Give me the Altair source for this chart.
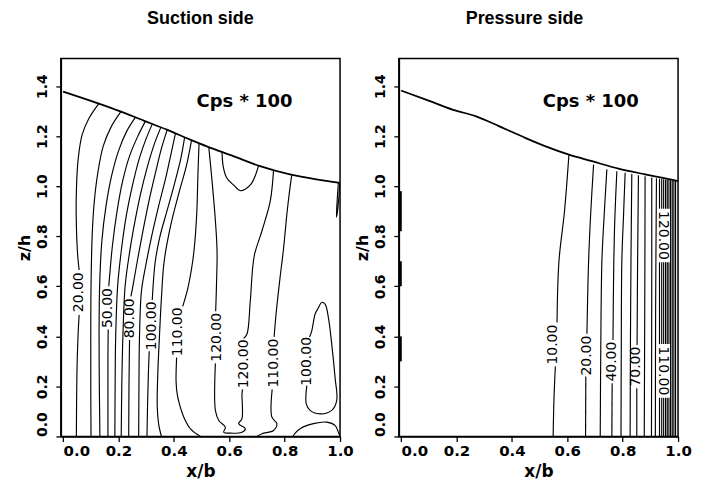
import altair as alt
import pandas as pd

# ---------------- Suction side (left panel) ----------------
suc_boundary = [(0.0, 1.378), (0.124, 1.332), (0.207, 1.299), (0.291, 1.262), (0.375, 1.226),
                (0.459, 1.186), (0.519, 1.159), (0.615, 1.120), (0.711, 1.080), (0.819, 1.047),
                (0.915, 1.027), (1.0, 1.013)]

suc_c20a = [(0.129, 1.330), (0.094, 1.272), (0.069, 1.206), (0.055, 1.113), (0.048, 0.98),
            (0.048, 0.847), (0.053, 0.72), (0.058, 0.665)]
suc_c20b = [(0.058, 0.485), (0.054, 0.40), (0.050, 0.25), (0.048, 0.0)]
suc_c30 = [(0.209, 1.298), (0.175, 1.24), (0.145, 1.16), (0.125, 1.05), (0.112, 0.93), (0.105, 0.80),
           (0.101, 0.60), (0.100, 0.40), (0.100, 0.20), (0.101, 0.0)]
suc_c40 = [(0.261, 1.275), (0.23, 1.22), (0.20, 1.14), (0.175, 1.04), (0.155, 0.92), (0.140, 0.78),
           (0.132, 0.60), (0.130, 0.40), (0.131, 0.20), (0.133, 0.0)]
suc_c50a = [(0.297, 1.259), (0.27, 1.20), (0.24, 1.12), (0.215, 1.02), (0.195, 0.90), (0.178, 0.76),
            (0.168, 0.64), (0.165, 0.60)]
suc_c50b = [(0.163, 0.427), (0.162, 0.30), (0.162, 0.15), (0.162, 0.0)]
suc_c60 = [(0.322, 1.248), (0.30, 1.19), (0.275, 1.11), (0.25, 1.00), (0.228, 0.88), (0.210, 0.74),
           (0.197, 0.60), (0.190, 0.40), (0.188, 0.20), (0.187, 0.0)]
suc_c70 = [(0.353, 1.235), (0.33, 1.17), (0.305, 1.08), (0.28, 0.97), (0.258, 0.85), (0.238, 0.72),
           (0.224, 0.60), (0.216, 0.40), (0.212, 0.20), (0.210, 0.0)]
suc_c80a = [(0.376, 1.225), (0.355, 1.15), (0.335, 1.06), (0.312, 0.95), (0.29, 0.83), (0.268, 0.70),
            (0.252, 0.60), (0.245, 0.56)]
suc_c80b = [(0.240, 0.385), (0.238, 0.20), (0.237, 0.0)]
suc_c90 = [(0.406, 1.212), (0.39, 1.13), (0.37, 1.03), (0.345, 0.92), (0.32, 0.80), (0.298, 0.68),
           (0.283, 0.58), (0.276, 0.40), (0.274, 0.20), (0.273, 0.0)]
suc_c100a = [(0.439, 1.196), (0.425, 1.11), (0.40, 1.00), (0.375, 0.90), (0.35, 0.80), (0.333, 0.70),
             (0.325, 0.60), (0.322, 0.545)]
suc_c100b = [(0.311, 0.34), (0.308, 0.25), (0.305, 0.12), (0.303, 0.0)]
suc_c105 = [(0.464, 1.184), (0.445, 1.08), (0.42, 0.98), (0.39, 0.85), (0.365, 0.70), (0.355, 0.55),
            (0.348, 0.40), (0.342, 0.25), (0.340, 0.12), (0.345, 0.05), (0.355, 0.0)]
suc_c110a = [(0.491, 1.172), (0.487, 1.05), (0.483, 0.90), (0.476, 0.78), (0.468, 0.70), (0.450, 0.59),
             (0.432, 0.52)]
suc_c110b = [(0.41, 0.315), (0.408, 0.22), (0.412, 0.17), (0.42, 0.13), (0.436, 0.077), (0.46, 0.03),
             (0.496, 0.0)]
suc_c120a = [(0.526, 1.157), (0.538, 1.02), (0.550, 0.861), (0.556, 0.741), (0.554, 0.608), (0.551, 0.50)]
suc_c120b = [(0.550, 0.292), (0.550, 0.104), (0.562, 0.064), (0.586, 0.037), (0.580, 0.017),
             (0.604, 0.013), (0.646, 0.017), (0.658, 0.031), (0.634, 0.051), (0.646, 0.071),
             (0.646, 0.170), (0.648, 0.188)]
suc_c120c = [(0.652, 0.392), (0.664, 0.409), (0.676, 0.542), (0.69, 0.72), (0.718, 0.821),
             (0.748, 0.940), (0.760, 1.065)]
suc_c130 = [(0.574, 1.137), (0.578, 1.08), (0.590, 1.035), (0.615, 1.005), (0.640, 0.982),
            (0.660, 0.99), (0.680, 1.01), (0.695, 1.045), (0.706, 1.082)]
suc_c110c = [(0.826, 1.046), (0.820, 1.00), (0.808, 0.887), (0.796, 0.75), (0.784, 0.64), (0.770, 0.50),
             (0.762, 0.398)]
suc_c110d = [(0.755, 0.188), (0.754, 0.077), (0.772, 0.051), (0.760, 0.024), (0.718, 0.011), (0.70, 0.0)]
suc_c100loop = [(0.880, 0.203), (0.878, 0.130), (0.892, 0.104), (0.928, 0.090), (0.970, 0.104),
                (0.988, 0.143), (0.982, 0.236), (0.970, 0.369), (0.958, 0.475), (0.946, 0.529),
                (0.934, 0.535), (0.920, 0.51), (0.910, 0.489), (0.898, 0.422), (0.89, 0.397)]
suc_c100foot = [(0.830, 0.0), (0.838, 0.013), (0.856, 0.031), (0.904, 0.051), (0.952, 0.057),
                (0.982, 0.044), (0.994, 0.017), (1.0, 0.0)]
suc_wallpin = [(0.994, 1.013), (0.990, 0.95), (0.987, 0.876), (0.991, 0.90), (0.996, 0.96), (0.999, 1.01)]

suc_lab_text = ["20.00", "50.00", "80.00", "100.00", "110.00", "120.00", "120.00", "110.00", "100.00"]
suc_lab_x = [0.056, 0.164, 0.241, 0.322, 0.415, 0.556, 0.652, 0.760, 0.880]
suc_lab_z = [0.576, 0.513, 0.472, 0.442, 0.418, 0.396, 0.290, 0.293, 0.300]
suc_lab_ang = [270, 270, 270, 270, 270, 270, 270, 270, 270]

# ---------------- Pressure side (right panel) ----------------
pre_boundary = [(0.0, 1.382), (0.092, 1.345), (0.188, 1.305), (0.271, 1.279), (0.355, 1.239),
                (0.450, 1.192), (0.522, 1.159), (0.606, 1.126), (0.689, 1.100), (0.785, 1.070),
                (0.881, 1.047), (0.988, 1.023), (1.0, 1.02)]

pre_c10a = [(0.606, 1.126), (0.590, 0.90), (0.570, 0.70), (0.563, 0.455)]
pre_c10b = [(0.557, 0.28), (0.552, 0.15), (0.549, 0.0)]
pre_c20a = [(0.695, 1.086), (0.685, 0.90), (0.677, 0.70), (0.671, 0.41)]
pre_c20b = [(0.667, 0.24), (0.666, 0.0)]
pre_c30 = [(0.743, 1.067), (0.733, 0.88), (0.725, 0.70), (0.721, 0.35), (0.719, 0.0)]
pre_c40a = [(0.779, 1.060), (0.772, 0.88), (0.768, 0.70), (0.765, 0.385)]
pre_c40b = [(0.762, 0.213), (0.761, 0.0)]
pre_c50 = [(0.809, 1.054), (0.803, 0.88), (0.797, 0.70), (0.795, 0.35), (0.794, 0.0)]
pre_c60 = [(0.833, 1.049), (0.830, 0.70), (0.828, 0.35), (0.827, 0.0)]
pre_c70a = [(0.857, 1.044), (0.854, 0.70), (0.852, 0.365)]
pre_c70b = [(0.851, 0.193), (0.851, 0.0)]
pre_c80 = [(0.881, 1.040), (0.880, 0.60), (0.879, 0.30), (0.878, 0.0)]
pre_c90 = [(0.905, 1.035), (0.905, 0.60), (0.904, 0.0)]
pre_c100 = [(0.922, 1.032), (0.919, 0.50), (0.918, 0.0)]
pre_dense_x = [0.933, 0.941, 0.948, 0.955, 0.961, 0.967, 0.973, 0.979, 0.985, 0.991]
pre_dense_top = [1.030, 1.029, 1.028, 1.027, 1.026, 1.025, 1.024, 1.023, 1.022, 1.021]
pre_wall = [[(-0.002, 0.82), (-0.002, 0.98)], [(-0.002, 0.60), (-0.002, 0.70)],
            [(-0.002, 0.30), (-0.002, 0.40)]]

pre_lab_text = ["10.00", "20.00", "40.00", "70.00", "110.00", "120.00"]
pre_lab_x = [0.548, 0.670, 0.763, 0.849, 0.945, 0.945]
pre_lab_z = [0.367, 0.323, 0.299, 0.279, 0.262, 0.803]
pre_lab_ang = [270, 270, 270, 270, 90, 90]

note_text = "Cps * 100"
note_pos = {"suc": (0.655, 1.335), "pre": (0.685, 1.335)}


def seg_frame(segs):
    rows = []
    for name, pts in segs:
        for i, (x, z) in enumerate(pts):
            rows.append({"seg": name, "i": i, "x": x, "z": z})
    return pd.DataFrame(rows)


suc_segs = [("c20a", suc_c20a), ("c20b", suc_c20b), ("c30", suc_c30), ("c40", suc_c40),
            ("c50a", suc_c50a), ("c50b", suc_c50b), ("c60", suc_c60), ("c70", suc_c70),
            ("c80a", suc_c80a), ("c80b", suc_c80b), ("c90", suc_c90), ("c100a", suc_c100a),
            ("c100b", suc_c100b), ("c105", suc_c105), ("c110a", suc_c110a), ("c110b", suc_c110b),
            ("c120a", suc_c120a), ("c120b", suc_c120b), ("c120c", suc_c120c), ("c130", suc_c130),
            ("c110c", suc_c110c), ("c110d", suc_c110d), ("c100loop", suc_c100loop),
            ("c100foot", suc_c100foot), ("pin", suc_wallpin)]

pre_segs = [("c10a", pre_c10a), ("c10b", pre_c10b), ("c20a", pre_c20a), ("c20b", pre_c20b),
            ("c30", pre_c30), ("c40a", pre_c40a), ("c40b", pre_c40b), ("c50", pre_c50),
            ("c60", pre_c60), ("c70a", pre_c70a), ("c70b", pre_c70b), ("c80", pre_c80),
            ("c90", pre_c90), ("c100", pre_c100)]

# dense contours near the trailing wall, broken where the two boxed labels sit
for k, (dx_, dtop) in enumerate(zip(pre_dense_x, pre_dense_top)):
    cuts = []
    for lx, lz, lt in zip(pre_lab_x, pre_lab_z, pre_lab_text):
        if abs(dx_ - lx) < 0.023:
            half = 0.097 if len(lt) > 5 else 0.08
            cuts.append((lz - half - 0.01, lz + half + 0.01))
    cuts.sort()
    start = 0.0
    n = 0
    for a, b in cuts:
        pre_segs.append((f"d{k}_{n}", [(dx_, start), (dx_, a)]))
        n += 1
        start = b
    pre_segs.append((f"d{k}_{n}", [(dx_, start), (dx_, dtop)]))

XDOM = [-0.008, 1.0]
YDOM = [0.0, 1.51]

first_left = {"condition": {"test": "datum.value === 0", "value": "left"}, "value": "center"}


def panel(segs, boundary, lab_text, lab_x, lab_z, lab_ang, note, title, tdx, walls=None):
    xenc = alt.X("x:Q", scale=alt.Scale(domain=XDOM, nice=False, zero=False),
                 axis=alt.Axis(values=[0, 0.2, 0.4, 0.6, 0.8, 1.0], format=".1f", title="x/b",
                               labelAlign=first_left, labelFontSize=15, labelPadding=2,
                               titlePadding=5, titleFontSize=17))
    yenc = alt.Y("z:Q", scale=alt.Scale(domain=YDOM, nice=False, zero=False),
                 axis=alt.Axis(values=[0, 0.2, 0.4, 0.6, 0.8, 1.0, 1.2, 1.4], format=".1f", title="z/h",
                               labelAngle=270, labelAlign=first_left, labelBaseline="bottom",
                               labelPadding=6, titlePadding=3))
    lines = alt.Chart(seg_frame(segs)).mark_line(
        color="black", strokeWidth=1.15, interpolate="catmull-rom"
    ).encode(xenc, yenc, detail="seg:N", order="i:Q")
    bdf = pd.DataFrame({"x": [p[0] for p in boundary], "z": [p[1] for p in boundary],
                        "i": list(range(len(boundary)))})
    bline = alt.Chart(bdf).mark_line(color="black", strokeWidth=1.7, interpolate="monotone").encode(
        x="x:Q", y="z:Q", order="i:Q")
    ldf = pd.DataFrame({"t": lab_text, "x": lab_x, "z": lab_z, "ang": lab_ang})
    labs = alt.Chart(ldf).mark_text(font="DejaVu Sans", fontSize=14, color="black",
                                    align="center", baseline="middle").encode(
        x="x:Q", y="z:Q", text="t:N", angle=alt.Angle("ang:Q", scale=None))
    ndf = pd.DataFrame({"t": [note_text], "x": [note[0]], "z": [note[1]]})
    nt = alt.Chart(ndf).mark_text(font="DejaVu Sans", fontSize=18, fontWeight="bold", color="black",
                                  align="center", baseline="middle").encode(
        x="x:Q", y="z:Q", text="t:N")
    layers = [lines, bline]
    if walls:
        wdf = seg_frame([(f"w{j}", w) for j, w in enumerate(walls)])
        layers.append(alt.Chart(wdf).mark_line(color="black", strokeWidth=2.5).encode(
            x="x:Q", y="z:Q", detail="seg:N", order="i:Q"))
    layers += [labs, nt]
    return alt.layer(*layers).properties(
        width=280, height=379,
        title=alt.TitleParams(title, font="Liberation Sans", fontSize=18, fontWeight="bold",
                              anchor="middle", offset=31, dx=tdx, color="black"))


left = panel(suc_segs, suc_boundary, suc_lab_text, suc_lab_x, suc_lab_z, suc_lab_ang,
             note_pos["suc"], "Suction side", 0)
right = panel(pre_segs, pre_boundary, pre_lab_text, pre_lab_x, pre_lab_z, pre_lab_ang,
              note_pos["pre"], "Pressure side", -14, walls=pre_wall)

chart = alt.hconcat(left, right, spacing=59, bounds="flush").properties(
    padding={"left": 8, "right": 5, "top": 0, "bottom": 0}
).configure_view(stroke="black", strokeWidth=1.5).configure_axis(
    grid=False, domainColor="black", domainWidth=1.5, tickColor="black", tickSize=5, tickWidth=1.3,
    labelColor="black", labelFont="DejaVu Sans", labelFontWeight="bold", labelFontSize=14,
    labelPadding=2, titleColor="black", titleFont="DejaVu Sans", titleFontWeight="bold",
    titleFontSize=16, titlePadding=2
)

chart.save("out.html", embed_options={"renderer": "svg", "actions": False})
